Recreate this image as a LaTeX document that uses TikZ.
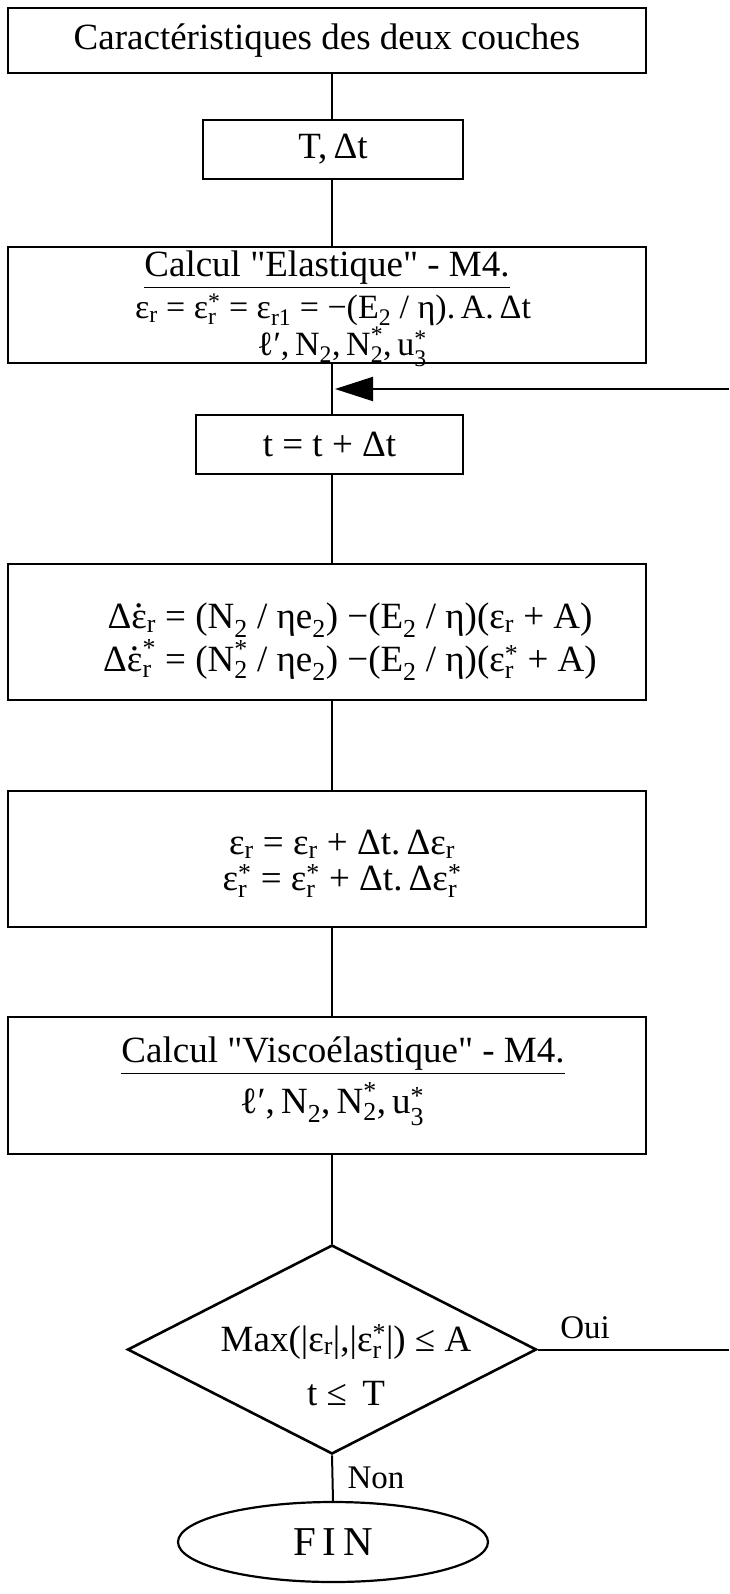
\documentclass[tikz,border=0pt]{standalone}
\usepackage{fontspec}
\usepackage{amsmath}
\setmainfont{Liberation Serif}
\usetikzlibrary{arrows.meta,shapes.geometric}
\newcommand{\SBX}[3]{$\text{#1}^{\text{#3}}_{\text{#2}}$}
\newcommand{\SB}[2]{$\text{#1}_{\text{#2}}$}
\newcommand{\edot}{\leavevmode\hbox{ε\llap{\hbox to 0.44em{\hss\raisebox{0.56em}{.}\hss}}}}
\begin{document}
\begin{tikzpicture}[x=1pt,y=-1pt,
  every node/.style={font=\fontsize{37}{42}\selectfont, inner sep=0pt},
  box/.style={draw, line width=2.6pt, rectangle},
  link/.style={line width=2pt},
  small/.style={font=\fontsize{34}{40}\selectfont},
  lbl/.style={font=\fontsize{33}{38}\selectfont}]
\useasboundingbox (0,0) rectangle (729,1594);
\coordinate (spine) at (332,0);

% boxes
\node[box, minimum width=638pt, minimum height=65pt] (b1) at (327,40.5) {Caractéristiques des deux couches};
\node[box, minimum width=260pt, minimum height=59pt] (b2) at (333,149.5) {T,\,Δt};
\node[box, minimum width=638pt, minimum height=116pt] (b3) at (327,305) {};
\node (b3a) at (327,270) {\underline{Calcul \textquotedbl Elastique\textquotedbl\ - M4.}};
\node[small] (b3b) at (333,310) {\SB{ε}{r} = \SBX{ε}{r}{*} = \SB{ε}{r1} = −(\SB{E}{2} / η).\,A.\,Δt};
\node[small] (b3c) at (342,347) {ℓ′,\,\SB{N}{2},\,\SBX{N}{2}{*},\,\SBX{u}{3}{*}};
\node[box, minimum width=267pt, minimum height=59pt] (b4) at (329.5,444.5) {t = t + Δt};
\node[box, minimum width=638pt, minimum height=136pt] (b5) at (327,632) {};
\node (b5a) at (350,620) {Δ\SB{\edot}{r} = (\SB{N}{2} / η\SB{e}{2}) −(\SB{E}{2} / η)(\SB{ε}{r} + A)};
\node (b5b) at (350,660) {Δ\SBX{\edot}{r}{*} = (\SBX{N}{2}{*} / η\SB{e}{2}) −(\SB{E}{2} / η)(\SBX{ε}{r}{*} + A)};
\node[box, minimum width=638pt, minimum height=136pt] (b6) at (327,859) {};
\node (b6a) at (342,844) {\SB{ε}{r} = \SB{ε}{r} + Δt.\,Δ\SB{ε}{r}};
\node (b6b) at (342,881) {\SBX{ε}{r}{*} = \SBX{ε}{r}{*} + Δt.\,Δ\SBX{ε}{r}{*}};
\node[box, minimum width=638pt, minimum height=137pt] (b7) at (327,1085.5) {};
\node (b7a) at (343,1056) {\underline{Calcul \textquotedbl Viscoélastique\textquotedbl\ - M4.}};
\node (b7b) at (332,1104) {ℓ′,\,\SB{N}{2},\,\SBX{N}{2}{*},\,\SBX{u}{3}{*}};
\node[draw, diamond, line width=2.6pt, minimum width=409pt, minimum height=209pt, aspect=1.96] (d) at (332,1349.5) {};
\node (da) at (346,1342) {Max(|\SB{ε}{r}|,|\SBX{ε}{r}{*}|) ≤ A};
\node (db) at (346,1394) {t ≤ \,T};
\node[draw, ellipse, line width=2.2pt, minimum width=310pt, minimum height=80pt, font=\fontsize{41}{46}\selectfont] (fin) at (333,1542) {F\,I\,N};

% connectors
\draw[link] (b1.south -| spine) -- (b2.north -| spine);
\draw[link] (b2.south -| spine) -- (b3.north -| spine);
\draw[link] (b3.south -| spine) -- (b4.north -| spine);
\draw[link] (b4.south -| spine) -- (b5.north -| spine);
\draw[link] (b5.south -| spine) -- (b6.north -| spine);
\draw[link] (b6.south -| spine) -- (b7.north -| spine);
\draw[link] (b7.south -| spine) -- (d.north);
\draw[link] (d.south) -- node[lbl, right=14pt] (non) {Non} (fin.north);
\coordinate (ouiend) at (729,1349.5);
\draw[link] (d.east) -- (ouiend);
\node[lbl] (oui) at (585,1328) {Oui};
\coordinate (loopin) at (729,389);
\draw[link, -{Triangle[length=38pt,width=24pt]}] (loopin) -- ([xshift=3pt]loopin -| spine);
\end{tikzpicture}
\end{document}
